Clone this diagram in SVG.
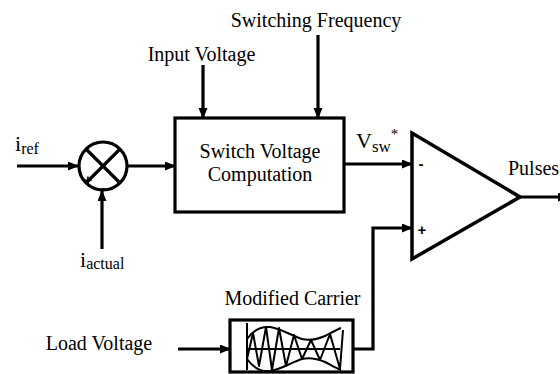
<svg xmlns="http://www.w3.org/2000/svg" width="560" height="374" viewBox="0 0 560 374">
<style>
text{font-family:"Liberation Serif","Times New Roman",serif;fill:#000}
.lbl{font-size:20px}
.sign{font-family:"Liberation Sans",Arial,sans-serif;font-weight:bold;font-size:15px;text-anchor:middle}
.ln{fill:none;stroke:#000;stroke-width:3.2}
.arr{fill:none;stroke:#000;stroke-width:3.2;marker-end:url(#ah)}
.wave{fill:none;stroke:#000;stroke-width:2;stroke-linejoin:round}
</style>
<defs>
<marker id="ah" markerUnits="userSpaceOnUse" markerWidth="12" markerHeight="10" refX="10" refY="4.5" orient="auto">
<path d="M0,0 L11,4.5 L0,9 Z" fill="#000"/>
</marker>
</defs>

<g id="connectors">
<line class="arr" x1="17" y1="166" x2="78" y2="166"/>
<line class="arr" x1="102" y1="249" x2="102" y2="191"/>
<line class="arr" x1="128" y1="166" x2="175" y2="166"/>
<line class="arr" x1="203" y1="65" x2="203" y2="118"/>
<line class="arr" x1="318" y1="35" x2="318" y2="118"/>
<line class="arr" x1="344" y1="164" x2="412" y2="164"/>
<line class="arr" x1="178" y1="349" x2="230" y2="349"/>
<polyline class="arr" points="353,349 373,349 373,228 412,228"/>
<line class="arr" x1="520" y1="197" x2="568" y2="197"/>
</g>

<g id="iref">
<text x="15" y="151" style="font-size:22px">i<tspan dy="3" style="font-size:16px">ref</tspan></text>
</g>
<g id="iactual">
<text x="80" y="267" style="font-size:22px">i<tspan dy="2" style="font-size:16px">actual</tspan></text>
</g>

<g id="sum">
<circle cx="103" cy="166" r="24" fill="#fff" stroke="#000" stroke-width="3.2"/>
<line class="ln" x1="86" y1="149" x2="120" y2="183"/>
<line class="ln" x1="120" y1="149" x2="86" y2="183"/>
<text class="sign" x="88" y="185">+</text>
<text class="sign" x="103" y="193">-</text>
</g>

<g id="input-voltage">
<text class="lbl" x="201.5" y="61" text-anchor="middle">Input Voltage</text>
</g>
<g id="switching-frequency">
<text class="lbl" x="316" y="27" text-anchor="middle">Switching Frequency</text>
</g>

<g id="svc">
<rect x="175" y="118" width="169" height="94" fill="#fff" stroke="#000" stroke-width="3.2"/>
<text class="lbl" x="260" y="158" text-anchor="middle">Switch Voltage</text>
<text class="lbl" x="260" y="181" text-anchor="middle">Computation</text>
</g>

<g id="vsw">
<text x="356" y="148" style="font-size:22px">V<tspan dy="4" style="font-size:17px">sw</tspan><tspan dy="-13" style="font-size:15px">*</tspan></text>
</g>

<g id="comparator">
<path d="M412,133 L412,259 L520,197 Z" fill="#fff" stroke="#000" stroke-width="3.5" stroke-linejoin="miter"/>
<text class="sign" x="421" y="169">-</text>
<text class="sign" x="422" y="235">+</text>
</g>

<g id="pulses">
<text class="lbl" x="508" y="175">Pulses</text>
</g>

<g id="load-voltage">
<text class="lbl" x="99" y="350" text-anchor="middle">Load Voltage</text>
</g>

<g id="carrier">
<text class="lbl" x="292.5" y="305" text-anchor="middle">Modified Carrier</text>
<rect x="230" y="320" width="123" height="52" fill="#fff" stroke="#000" stroke-width="3.2"/>
<line class="wave" x1="247" y1="323" x2="247" y2="370"/>
<line class="wave" x1="247" y1="349" x2="340" y2="349"/>
<path class="wave" d="M247,339 C252,332 260,326 270,327 C280,328 292,336 302,339 C310,341 318,339 325,336 C331,333 336,330 341,328"/>
<path class="wave" d="M247,359 C252,366 260,372 270,371 C280,370 292,362 302,359 C310,357 318,359 325,362 C331,365 336,368 341,370"/>
<polyline class="wave" points="247,359 253,333 259,366 266,327 272,370 279,328 286,366 294,335 302,359 311,340 320,360 330,334 340,369 343,330"/>
</g>
</svg>
